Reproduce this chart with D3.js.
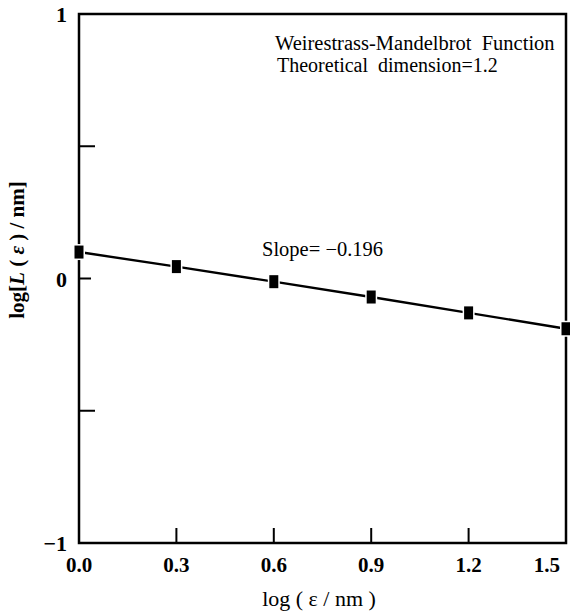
<!DOCTYPE html>
<html>
<head>
<meta charset="utf-8">
<script src="https://cdn.jsdelivr.net/npm/d3@7"></script>
<style>
  body { margin: 0; background: #fff; }
  svg text { font-family: "Liberation Serif", "Times New Roman", serif; fill: #000; }
</style>
</head>
<body>
<svg id="chart" width="570" height="615"></svg>
<script>
// data
const logEps = [0.0, 0.3, 0.6, 0.9, 1.2, 1.5];
const logL = [0.10, 0.045, -0.012, -0.07, -0.13, -0.19];
const xTicks = [0.0, 0.3, 0.6, 0.9, 1.2, 1.5];
const yTicks = [-1, -0.5, 0, 0.5, 1];
const yLabelled = [-1, 0, 1];

const svg = d3.select("#chart");
const plotL = 79, plotR = 566, plotT = 14, plotB = 543;

const x = d3.scaleLinear().domain([0, 1.5]).range([plotL, plotR]);
const y = d3.scaleLinear().domain([-1, 1]).range([plotB, plotT]);

// frame
svg.append("rect")
  .attr("x", plotL).attr("y", plotT)
  .attr("width", plotR - plotL).attr("height", plotB - plotT)
  .attr("fill", "none").attr("stroke", "#000").attr("stroke-width", 2.5);

// x ticks (inside, upward)
svg.append("g").selectAll("line")
  .data(xTicks.slice(1, -1))
  .join("line")
  .attr("x1", d => x(d)).attr("x2", d => x(d))
  .attr("y1", plotB).attr("y2", plotB - 15)
  .attr("stroke", "#000").attr("stroke-width", 2);

// last label sits inside the frame's right edge
svg.append("g").selectAll("text")
  .data(xTicks)
  .join("text")
  .attr("x", (d, i) => i === xTicks.length - 1 ? x(d) - 6 : x(d))
  .attr("y", plotB + 29)
  .attr("text-anchor", (d, i) => i === xTicks.length - 1 ? "end" : "middle")
  .attr("font-size", 21).attr("font-weight", "bold")
  .text(d => d.toFixed(1));

// y ticks (inside, rightward)
svg.append("g").selectAll("line")
  .data(yTicks.slice(1, -1))
  .join("line")
  .attr("x1", plotL).attr("x2", d => plotL + (d === 0 ? 12 : 16))
  .attr("y1", d => y(d)).attr("y2", d => y(d))
  .attr("stroke", "#000").attr("stroke-width", 2);

svg.append("g").selectAll("text")
  .data(yLabelled)
  .join("text")
  .attr("x", plotL - 12).attr("y", d => y(d) + 8)
  .attr("text-anchor", "end")
  .attr("font-size", 22).attr("font-weight", "bold")
  .text(d => d < 0 ? "\u2212" + Math.abs(d) : d);

// data line, then markers with a white halo to leave small gaps
const line = d3.line().x(d => x(d[0])).y(d => y(d[1]));
const pts = logEps.map((v, i) => [v, logL[i]]);

svg.append("path")
  .datum(pts)
  .attr("d", line)
  .attr("fill", "none").attr("stroke", "#000").attr("stroke-width", 2.4);

svg.append("g").selectAll("rect")
  .data(pts)
  .join("rect")
  .attr("x", d => x(d[0]) - 4.5).attr("y", d => y(d[1]) - 6.5)
  .attr("width", 9).attr("height", 13)
  .attr("fill", "#000").attr("stroke", "#fff").attr("stroke-width", 3)
  .attr("paint-order", "stroke");

// annotations
svg.append("text")
  .attr("x", 275).attr("y", 50).attr("font-size", 20.5)
  .attr("xml:space", "preserve")
  .text("Weirestrass-Mandelbrot  Function");
svg.append("text")
  .attr("x", 277).attr("y", 72).attr("font-size", 20)
  .attr("xml:space", "preserve")
  .text("Theoretical  dimension=1.2");
svg.append("text")
  .attr("x", 262).attr("y", 256).attr("font-size", 20.5)
  .text("Slope= \u22120.196");

// axis titles
svg.append("text")
  .attr("x", 319).attr("y", 606)
  .attr("text-anchor", "middle").attr("font-size", 22)
  .attr("xml:space", "preserve")
  .text("log ( \u03b5 / nm )");

const yt = svg.append("text")
  .attr("transform", "translate(24,250) rotate(-90)")
  .attr("text-anchor", "middle").attr("font-size", 21).attr("font-weight", "bold");
yt.append("tspan").text("log[");
yt.append("tspan").attr("font-style", "italic").text("L");
yt.append("tspan").text(" ( ");
yt.append("tspan").attr("font-style", "italic").text("\u03b5");
yt.append("tspan").text(" ) / nm]");
</script>
</body>
</html>
